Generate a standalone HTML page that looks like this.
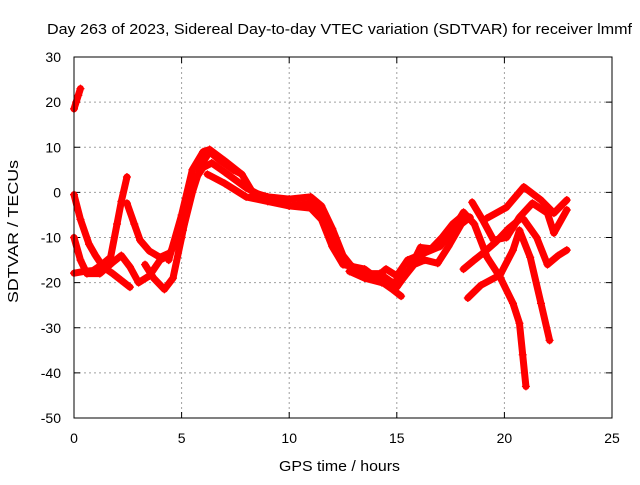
<!DOCTYPE html>
<html><head><meta charset="utf-8"><style>
body{margin:0;background:#fff}
svg text{font-family:"Liberation Sans",sans-serif;font-size:14px;fill:#000}
</style></head><body>
<svg id="c" width="640" height="480">
<text x="47" y="34" textLength="585" lengthAdjust="spacingAndGlyphs" style="font-size:15px">Day 263 of 2023, Sidereal Day-to-day VTEC variation (SDTVAR) for receiver lmmf</text>
<text x="279" y="471" textLength="121" lengthAdjust="spacingAndGlyphs" style="font-size:15px">GPS time / hours</text>
<text transform="translate(18,303) rotate(-90)" textLength="143" lengthAdjust="spacingAndGlyphs" style="font-size:15px">SDTVAR / TECUs</text>
<g id="grid"></g><g id="ticks"></g><g id="series"></g>
<rect x="74" y="57" width="538" height="361" fill="none" stroke="#000" stroke-width="1"/>
</svg>
<script>
const xTicks=[0,5,10,15,20,25];
const yTicks=[30,20,10,0,-10,-20,-30,-40,-50];
const track1=[[0,18.5],[0.1,20],[0.2,21.5],[0.3,23]];
const track2=[[0,-0.5],[0.3,-6],[0.7,-11.5],[1.0,-14],[1.35,-16.5],[1.8,-18],[2.2,-19.5],[2.6,-21]];
const track3=[[0,-17.9],[0.5,-17.5],[0.9,-17.3],[1.3,-16],[1.7,-14.4],[2.0,-7],[2.2,-2],[2.46,3.4]];
const track4=[[0,-10],[0.3,-15],[0.6,-18],[1.2,-18],[1.8,-15.5],[2.2,-14],[2.6,-16.5],[3.0,-20],[3.5,-18.5],[4.0,-15],[4.4,-14]];
const track5=[[2.46,-2.4],[2.8,-7],[3.07,-10.6],[3.5,-13],[4.0,-14.4],[4.46,-13.4],[5.06,-8.4],[5.5,0],[5.9,6],[6.3,9],[6.8,7],[7.4,5],[7.8,4]];
const track6=[[3.3,-16],[3.7,-19],[4.2,-21.5],[4.6,-19],[5.0,-10],[5.5,2],[6.0,5.5],[6.4,6.5],[7,4.5],[8,1],[9,-1.5],[10,-3],[11,-3.5],[11.5,-6],[12,-12],[12.5,-16],[13.5,-17],[14.2,-19.5],[14.8,-21.5],[15.2,-23]];
const track7=[[4.4,-15],[5,-5],[5.5,5],[6,9],[6.3,9.5],[7,7],[7.8,4],[8.3,0],[9,-1],[10,-1.5],[11,-1],[11.5,-3],[12,-8],[12.5,-14],[13,-17],[14,-19],[14.5,-17],[15,-18.5],[15.5,-15],[16,-14],[17,-12],[17.5,-9],[18.1,-4.4],[18.6,-7],[19.2,-14.4],[19.8,-18.8],[20.4,-24.6],[20.7,-29],[20.85,-36],[21,-43]];
const track8=[[6.2,4],[7,2],[8,-1],[9,-2],[10,-3],[11,-2.5],[11.7,-6],[12.2,-13],[12.8,-16],[13.5,-18],[14.2,-18],[14.8,-20],[15.3,-19],[15.8,-16],[16.3,-15],[16.9,-15.7],[17.4,-12],[18,-7],[18.4,-5.5]];
const track9=[[12.8,-17.5],[13.5,-19],[14.3,-20],[15,-21],[15.6,-17],[16.1,-12.2],[16.6,-12.5],[17.1,-10],[17.6,-7],[18.1,-5]];
const track10=[[18.1,-17],[18.6,-15],[19,-13.5],[19.6,-11],[20.2,-8],[20.7,-6]];
const track11=[[18.3,-23.4],[18.9,-20.6],[19.8,-18.3],[20.4,-12.8],[20.7,-8.4],[21.2,-14.4],[21.7,-24.6],[22.1,-32.8]];
const track12=[[18.5,-2.2],[19,-6.2],[19.5,-10.6],[20.1,-10],[20.7,-5.5],[21.3,-2.4],[22,-4.6],[22.3,-9],[22.9,-3.9]];
const track13=[[19.2,-5.7],[20.1,-3.3],[20.9,1.2],[21.7,-1.7],[22.3,-4.6],[22.9,-1.7]];
const track14=[[20.9,-6],[21.5,-10],[22,-16],[22.5,-14],[22.9,-12.8]];
const tracks=[track1,track2,track3,track4,track5,track6,track7,track8,track9,track10,track11,track12,track13,track14];
const X=v=>74+v*538/25, Y=v=>418-(v+50)*361/80;
const NS="http://www.w3.org/2000/svg";
function mk(t,a,p){const e=document.createElementNS(NS,t);for(const k in a)e.setAttribute(k,a[k]);p.appendChild(e);return e;}
const g=document.getElementById('grid'),tk=document.getElementById('ticks'),s=document.getElementById('series');
xTicks.forEach(v=>{const x=X(v);
 if(v>0&&v<25){const l=mk('line',{x1:x,x2:x,y1:57,y2:418,stroke:'#a0a0a0','stroke-dasharray':'2,3'},g);
 
 }
 mk('line',{x1:x,x2:x,y1:418,y2:412,stroke:'#000'},tk);mk('line',{x1:x,x2:x,y1:57,y2:63,stroke:'#000'},tk);
 const t=mk('text',{x:x,y:443,'text-anchor':'middle'},tk);t.textContent=v;
 
 });
yTicks.forEach(v=>{const y=Y(v);
 if(v<30&&v>-50){const l=mk('line',{x1:74,x2:612,y1:y,y2:y,stroke:'#a0a0a0','stroke-dasharray':'2,3'},g);
 
 }
 mk('line',{x1:74,x2:80,y1:y,y2:y,stroke:'#000'},tk);mk('line',{x1:612,x2:606,y1:y,y2:y,stroke:'#000'},tk);
 const t=mk('text',{x:61,y:y+5,'text-anchor':'end'},tk);t.textContent=v;
 
 });
tracks.forEach((tr,i)=>{
 const p=mk('polyline',{points:tr.map(d=>X(d[0])+','+Y(d[1])).join(' '),fill:'none',stroke:'#f00','stroke-width':7,'stroke-linejoin':'round','stroke-linecap':'round'},s);
 
 
 tr.forEach(d=>{const x=X(d[0]),y=Y(d[1]);
  const m=mk('path',{d:`M${x-4},${y}H${x+4}M${x},${y-4}V${y+4}`,stroke:'#f00','stroke-width':1.2},s);
  
  });
});
</script>
</body></html>
